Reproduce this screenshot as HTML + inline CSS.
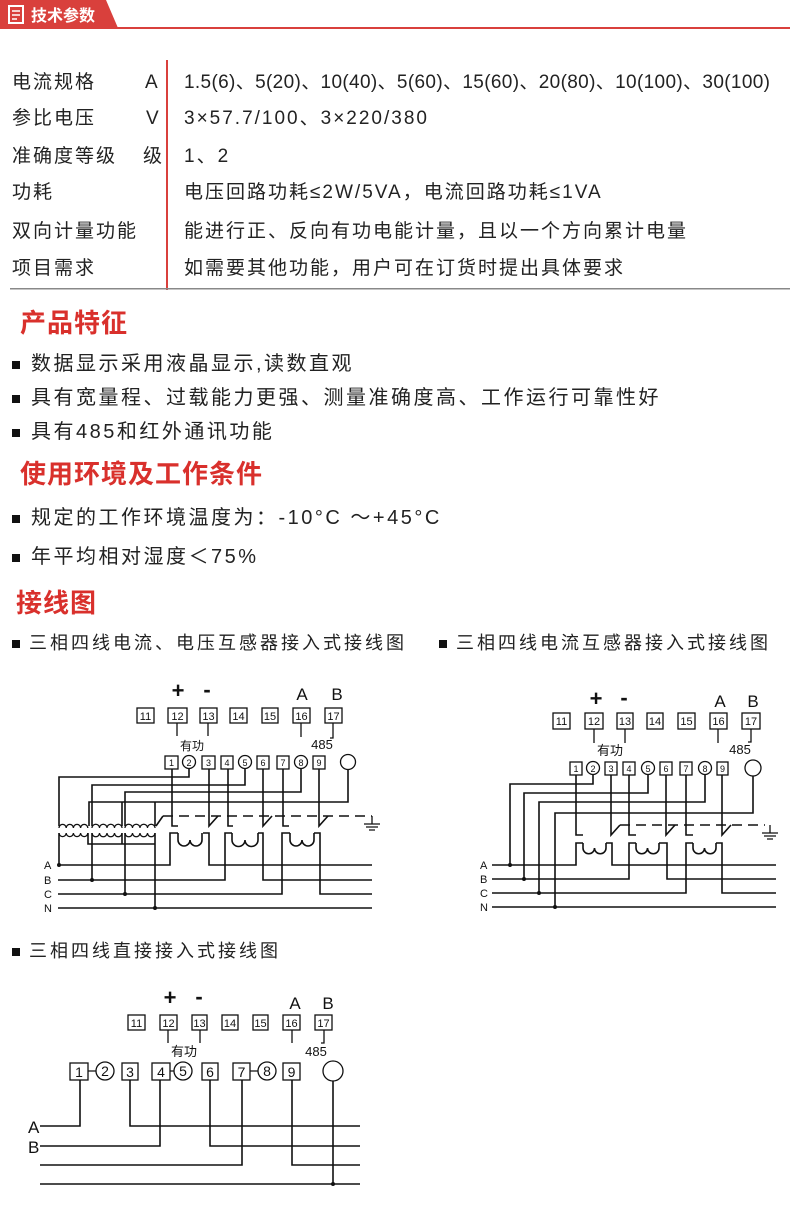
<!DOCTYPE html>
<html><head><meta charset="utf-8"><style>
body{margin:0;width:790px;height:1216px;background:#fff;position:relative;overflow:hidden;font-family:"Liberation Sans","Noto Sans CJK SC",sans-serif;color:#222}
.t{position:absolute;white-space:nowrap;line-height:24px;font-size:19px;letter-spacing:2px}
.h{position:absolute;white-space:nowrap;color:#d9302c;font-size:26px;line-height:30px;font-weight:bold;letter-spacing:1px}
.b{position:absolute;white-space:nowrap;font-size:20px;line-height:26px;letter-spacing:2.5px}
.b:before{content:"";position:absolute;left:-19px;top:10px;width:8px;height:8px;background:#111}
.s{position:absolute;white-space:nowrap;font-size:18px;line-height:24px;letter-spacing:3px}
.s:before{content:"";position:absolute;left:-17px;top:9px;width:8px;height:8px;background:#111}
svg{position:absolute;left:0;top:0}
</style></head><body>
<svg width="790" height="1216" viewBox="0 0 790 1216" font-family="Liberation Sans, Noto Sans CJK SC, sans-serif">
<path d="M0 0 H106 L118 28 H0 Z" fill="#d9403c"/>
<rect x="0" y="27" width="790" height="2" fill="#d9403c"/>
<rect x="9" y="6" width="14" height="17" fill="none" stroke="#fff" stroke-width="2"/>
<path d="M12 11h8M12 15h8M12 19h5" stroke="#fff" stroke-width="1.6"/>
<text x="31" y="21" fill="#fff" font-size="16" font-weight="bold">技术参数</text>
<rect x="166" y="60" width="2" height="230" fill="#d9403c"/>
<rect x="10" y="288" width="780" height="1.5" fill="#888"/>
<g fill="none" stroke="#111" stroke-width="1.6">
<g stroke-width="1.3"><rect x="137" y="708" width="17" height="15"/><rect x="168" y="708" width="19" height="15"/><rect x="200" y="708" width="17" height="15"/><rect x="230" y="708" width="17" height="15"/><rect x="262" y="708" width="16" height="15"/><rect x="293" y="708" width="17" height="15"/><rect x="325" y="708" width="17" height="15"/>
<path d="M177 723V736M208 723V736M301 723V737M333 723V738H330"/>
<rect x="165" y="756" width="13" height="13"/><circle cx="189" cy="762" r="6.5"/><rect x="202" y="756" width="13" height="13"/><rect x="221" y="756" width="12" height="13"/><circle cx="245" cy="762" r="6.5"/><rect x="257" y="756" width="12" height="13"/><rect x="277" y="756" width="12" height="13"/><circle cx="301" cy="762" r="6.5"/><rect x="313" y="756" width="12" height="13"/><circle cx="348" cy="762" r="7.5"/></g>
<path d="M189 769V777H59V826M245 769V785H92V826M301 769V792H125V826M348 770V802H89V826M122 802V826M155 802V826"/>
<path d="M59 828a3.6 3.6 0 0 1 7.2 0a3.6 3.6 0 0 1 7.2 0a3.6 3.6 0 0 1 7.2 0a3.6 3.6 0 0 1 7.2 0M92 828a3.6 3.6 0 0 1 7.5 0a3.6 3.6 0 0 1 7.5 0a3.6 3.6 0 0 1 7.5 0a3.6 3.6 0 0 1 7.5 0M125 828a3.6 3.6 0 0 1 7.5 0a3.6 3.6 0 0 1 7.5 0a3.6 3.6 0 0 1 7.5 0a3.6 3.6 0 0 1 7.5 0" stroke-width="1.3"/>
<path d="M59 833a3.6 3.6 0 0 0 7.2 0a3.6 3.6 0 0 0 7.2 0a3.6 3.6 0 0 0 7.2 0a3.6 3.6 0 0 0 7.2 0M92 833a3.6 3.6 0 0 0 7.5 0a3.6 3.6 0 0 0 7.5 0a3.6 3.6 0 0 0 7.5 0a3.6 3.6 0 0 0 7.5 0M125 833a3.6 3.6 0 0 0 7.5 0a3.6 3.6 0 0 0 7.5 0a3.6 3.6 0 0 0 7.5 0a3.6 3.6 0 0 0 7.5 0" stroke-width="1.3"/>
<path d="M59 833V865M92 833V880M125 833V894M88 833V844H155V908M122 833V844M155 833V844"/>
<path d="M58 865H170V833H178M203 833H209V865H372M58 880H225V833H232M258 833H263V880H372M58 894H282V833H290M314 833H320V894H372M58 908H372"/>
<path d="M178 833V840a6 6 0 0 0 12 0a6 6 0 0 0 12 0V833M232 833V840a6.5 6.5 0 0 0 13 0a6.5 6.5 0 0 0 13 0V833M290 833V840a6 6 0 0 0 12 0a6 6 0 0 0 12 0V833"/>
<path d="M172 769V826H178M209 769V826L218 816M228 769V826H233M263 769V826L272 816M283 769V826H289M319 769V826L328 816M156 826L163 816"/>
<path d="M163 816H372" stroke-dasharray="10 6"/>
<path d="M372 816V824M364 824H380M366 827H378M369 830H375" stroke-width="1.3"/>
<g stroke-width="1.3"><rect x="553" y="713" width="17" height="16"/><rect x="585" y="713" width="18" height="16"/><rect x="617" y="713" width="16" height="16"/><rect x="647" y="713" width="16" height="16"/><rect x="678" y="713" width="17" height="16"/><rect x="710" y="713" width="17" height="16"/><rect x="742" y="713" width="18" height="16"/>
<path d="M594 729V743M625 729V743M718 729V743M751 729V742H748"/>
<rect x="570" y="762" width="12" height="13"/><circle cx="593" cy="768" r="6.5"/><rect x="605" y="762" width="12" height="13"/><rect x="623" y="762" width="12" height="13"/><circle cx="648" cy="768" r="6.5"/><rect x="660" y="762" width="12" height="13"/><rect x="680" y="762" width="12" height="13"/><circle cx="705" cy="768" r="6.5"/><rect x="717" y="762" width="11" height="13"/><circle cx="753" cy="768" r="8"/></g>
<path d="M593 775V784H510V865M648 775V793H524V879M705 775V802H539V893M753 776V813H555V907"/>
<path d="M492 865H576V843H583M606 843H612V865H776M492 879H629V843H636M659 843H667V879H776M492 893H686V843H693M716 843H722V893H776M492 907H776"/>
<path d="M583 843V848a5.7 5.7 0 0 0 11.5 0a5.7 5.7 0 0 0 11.5 0V843M636 843V848a5.7 5.7 0 0 0 11.5 0a5.7 5.7 0 0 0 11.5 0V843M693 843V848a5.7 5.7 0 0 0 11.5 0a5.7 5.7 0 0 0 11.5 0V843"/>
<path d="M576 775V835H583M611 775V835L620 825M629 775V835H636M666 775V835L675 825M686 775V835H693M722 775V835L731 825"/>
<path d="M620 825H765" stroke-dasharray="10 6"/>
<path d="M770 825V833M762 833H778M764 836H776M767 839H773" stroke-width="1.3"/>
<g stroke-width="1.3"><rect x="128" y="1015" width="17" height="15"/><rect x="160" y="1015" width="17" height="15"/><rect x="192" y="1015" width="15" height="15"/><rect x="222" y="1015" width="16" height="15"/><rect x="253" y="1015" width="15" height="15"/><rect x="283" y="1015" width="17" height="15"/><rect x="315" y="1015" width="17" height="15"/>
<path d="M168 1030V1043M200 1030V1043M292 1030V1043M324 1030V1043H321"/>
<rect x="70" y="1063" width="18" height="17"/><circle cx="105" cy="1071" r="9"/><rect x="122" y="1063" width="16" height="17"/><rect x="152" y="1063" width="18" height="17"/><circle cx="183" cy="1071" r="9"/><rect x="202" y="1063" width="16" height="17"/><rect x="233" y="1063" width="17" height="17"/><circle cx="267" cy="1071" r="9"/><rect x="283" y="1063" width="17" height="17"/><circle cx="333" cy="1071" r="10"/>
<path d="M88 1071H96M170 1071H174M250 1071H258"/></g>
<path d="M40 1126H80V1080M130 1080V1126H360M40 1146H160V1080M210 1080V1146H360M40 1165H242V1080M292 1080V1165H360M40 1184H360M333 1081V1184"/>
</g>
<g fill="#111">
<circle cx="59" cy="865" r="2"/><circle cx="92" cy="880" r="2"/><circle cx="125" cy="894" r="2"/><circle cx="155" cy="908" r="2"/>
<circle cx="510" cy="865" r="2"/><circle cx="524" cy="879" r="2"/><circle cx="539" cy="893" r="2"/><circle cx="555" cy="907" r="2"/>
<circle cx="333" cy="1184" r="2"/>
</g>
<g fill="#111" font-size="11" text-anchor="middle">
<text x="145.5" y="720">11</text><text x="177.5" y="720">12</text><text x="208.5" y="720">13</text><text x="238.5" y="720">14</text><text x="270" y="720">15</text><text x="301.5" y="720">16</text><text x="333.5" y="720">17</text>
<g font-size="9"><text x="171.5" y="766">1</text><text x="189" y="766">2</text><text x="208.5" y="766">3</text><text x="227" y="766">4</text><text x="245" y="766">5</text><text x="263" y="766">6</text><text x="283" y="766">7</text><text x="301" y="766">8</text><text x="319" y="766">9</text></g>
<text x="192" y="750" font-size="12">有功</text><text x="322" y="749" font-size="13">485</text>
<text x="178" y="698" font-size="22" font-weight="bold">+</text><text x="207" y="697" font-size="22" font-weight="bold">-</text><text x="302" y="700" font-size="17">A</text><text x="337" y="700" font-size="17">B</text>
<g font-size="11" text-anchor="start"><text x="44" y="869">A</text><text x="44" y="884">B</text><text x="44" y="898">C</text><text x="44" y="912">N</text></g>
<text x="561.5" y="725">11</text><text x="594" y="725">12</text><text x="625" y="725">13</text><text x="655" y="725">14</text><text x="686.5" y="725">15</text><text x="718.5" y="725">16</text><text x="751" y="725">17</text>
<g font-size="9"><text x="576" y="772">1</text><text x="593" y="772">2</text><text x="611" y="772">3</text><text x="629" y="772">4</text><text x="648" y="772">5</text><text x="666" y="772">6</text><text x="686" y="772">7</text><text x="705" y="772">8</text><text x="722.5" y="772">9</text></g>
<text x="610" y="755" font-size="13">有功</text><text x="740" y="754" font-size="13">485</text>
<text x="596" y="706" font-size="22" font-weight="bold">+</text><text x="624" y="705" font-size="22" font-weight="bold">-</text><text x="720" y="707" font-size="17">A</text><text x="753" y="707" font-size="17">B</text>
<g font-size="11" text-anchor="start"><text x="480" y="869">A</text><text x="480" y="883">B</text><text x="480" y="897">C</text><text x="480" y="911">N</text></g>
<text x="136.5" y="1027">11</text><text x="168.5" y="1027">12</text><text x="199.5" y="1027">13</text><text x="230" y="1027">14</text><text x="260.5" y="1027">15</text><text x="291.5" y="1027">16</text><text x="323.5" y="1027">17</text>
<g font-size="14"><text x="79" y="1077">1</text><text x="105" y="1076">2</text><text x="130" y="1077">3</text><text x="161" y="1077">4</text><text x="183" y="1076">5</text><text x="210" y="1077">6</text><text x="241.5" y="1077">7</text><text x="267" y="1076">8</text><text x="291.5" y="1077">9</text></g>
<text x="184" y="1056" font-size="13">有功</text><text x="316" y="1056" font-size="13">485</text>
<text x="170" y="1005" font-size="22" font-weight="bold">+</text><text x="199" y="1004" font-size="22" font-weight="bold">-</text><text x="295" y="1009" font-size="17">A</text><text x="328" y="1009" font-size="17">B</text>
<g font-size="17" text-anchor="start"><text x="28" y="1133">A</text><text x="28" y="1153">B</text></g>
</g>
</svg>

<div class="t" style="left:12px;top:71px">电流规格</div><div class="t" style="left:145px;top:71px">A</div><div class="t" style="left:184px;top:71px;letter-spacing:0.35px">1.5(6)、5(20)、10(40)、5(60)、15(60)、20(80)、10(100)、30(100)</div>
<div class="t" style="left:12px;top:107px">参比电压</div><div class="t" style="left:146px;top:107px">V</div><div class="t" style="left:184px;top:107px">3×57.7/100、3×220/380</div>
<div class="t" style="left:12px;top:145px">准确度等级</div><div class="t" style="left:143px;top:145px">级</div><div class="t" style="left:184px;top:145px">1、2</div>
<div class="t" style="left:12px;top:181px">功耗</div><div class="t" style="left:184px;top:181px">电压回路功耗≤2W/5VA，电流回路功耗≤1VA</div>
<div class="t" style="left:12px;top:220px">双向计量功能</div><div class="t" style="left:184px;top:220px">能进行正、反向有功电能计量，且以一个方向累计电量</div>
<div class="t" style="left:12px;top:257px">项目需求</div><div class="t" style="left:184px;top:257px">如需要其他功能，用户可在订货时提出具体要求</div>

<div class="h" style="left:20px;top:308px">产品特征</div>
<div class="b" style="left:31px;top:351px">数据显示采用液晶显示,读数直观</div>
<div class="b" style="left:31px;top:385px">具有宽量程、过载能力更强、测量准确度高、工作运行可靠性好</div>
<div class="b" style="left:31px;top:419px">具有485和红外通讯功能</div>
<div class="h" style="left:20px;top:459px">使用环境及工作条件</div>
<div class="b" style="left:31px;top:505px">规定的工作环境温度为：-10°C ～+45°C</div>
<div class="b" style="left:31px;top:544px">年平均相对湿度＜75%</div>
<div class="h" style="left:16px;top:588px">接线图</div>
<div class="s" style="left:29px;top:631px">三相四线电流、电压互感器接入式接线图</div>
<div class="s" style="left:456px;top:631px">三相四线电流互感器接入式接线图</div>
<div class="s" style="left:29px;top:939px">三相四线直接接入式接线图</div>
</body></html>
